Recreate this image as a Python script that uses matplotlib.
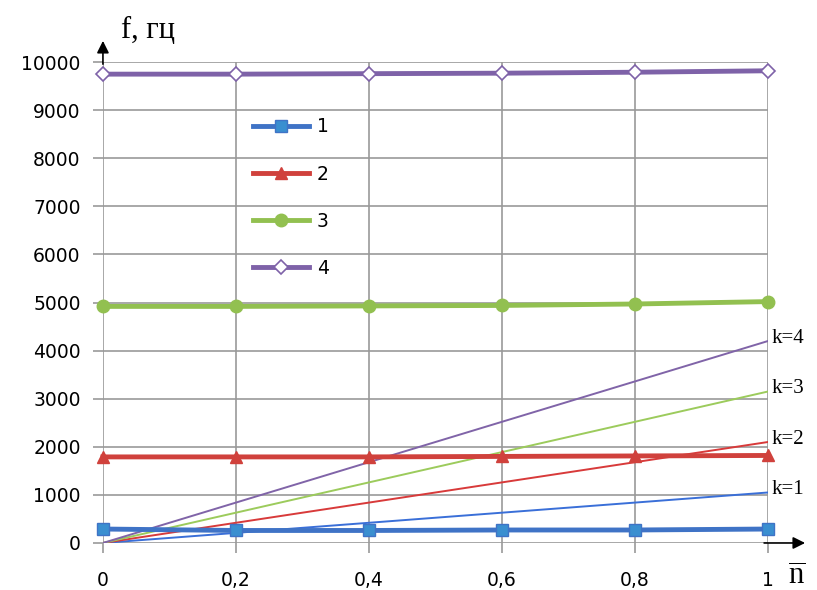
import matplotlib
matplotlib.use("Agg")
from matplotlib import pyplot as plt

# данные
n_vals = [0, 0.2, 0.4, 0.6, 0.8, 1.0]
f1 = [290, 260, 260, 270, 270, 290]
f2 = [1790, 1790, 1790, 1800, 1810, 1820]
f3 = [4920, 4920, 4930, 4940, 4970, 5020]
f4 = [9750, 9750, 9760, 9770, 9790, 9820]

k_n = [0, 1.0]
k_lines = {"k=1": [0, 1050], "k=2": [0, 2100], "k=3": [0, 3150], "k=4": [0, 4200]}

x_ticks = [0, 0.2, 0.4, 0.6, 0.8, 1.0]
x_labels = ["0", "0,2", "0,4", "0,6", "0,8", "1"]
y_ticks = list(range(0, 10001, 1000))

plt.rcParams["mathtext.fontset"] = "custom"
plt.rcParams["mathtext.rm"] = "Liberation Serif"

fig = plt.figure(figsize=(8.17, 5.9), dpi=100)
ax = fig.add_axes([0.126, 0.0797, 0.814, 0.815])

blue, red, green, purple = "#3F73C6", "#D0413C", "#92C050", "#7E62A8"
k_cols = {"k=1": "#3A6FD8", "k=2": "#D83A3A", "k=3": "#9CCB5C", "k=4": "#8064A8"}

# тонкие линии k
for name, vals in k_lines.items():
    ax.plot(k_n, vals, color=k_cols[name], lw=1.4, zorder=2)
    ax.text(1.006, vals[1] + 60, name, family="Liberation Serif", fontsize=15,
            ha="left", va="center")

ax.plot(n_vals, f1, color=blue, lw=3.5, marker="s", ms=9, mfc="#3A8FD0",
        mec=blue, label="1", clip_on=False, zorder=3)
ax.plot(n_vals, f2, color=red, lw=3.5, marker="^", ms=9, mfc=red,
        mec=red, label="2", clip_on=False, zorder=3)
ax.plot(n_vals, f3, color=green, lw=3.5, marker="o", ms=9, mfc=green,
        mec=green, label="3", clip_on=False, zorder=3)
ax.plot(n_vals, f4, color=purple, lw=3.5, marker="D", ms=7, mfc="white",
        mec=purple, mew=1.2, label="4", clip_on=False, zorder=3)

ax.set_xlim(0, 1)
ax.set_ylim(0, 10000)
ax.set_xticks(x_ticks)
ax.set_xticklabels(x_labels)
ax.set_yticks(y_ticks)
ax.grid(True, color="#999999", lw=1.2)
ax.set_axisbelow(True)
for s in ax.spines.values():
    s.set_visible(False)
ax.tick_params(axis="y", length=7, color="#999999", width=1.2, labelsize=13.5, pad=9)
ax.tick_params(axis="x", length=7, color="#999999", width=1.2, labelsize=13.5, pad=13)

# оси со стрелками
ax.annotate("", xy=(1.06, 0), xytext=(0.99, 0), xycoords="data",
            arrowprops=dict(arrowstyle="-|>", color="black", lw=1.2, mutation_scale=18),
            annotation_clip=False)
ax.annotate("", xy=(0, 10500), xytext=(0, 9900), xycoords="data",
            arrowprops=dict(arrowstyle="-|>", color="black", lw=1.2, mutation_scale=18),
            annotation_clip=False)

ax.text(0.027, 10650, "f, гц", family="Liberation Serif", fontsize=22,
        ha="left", va="center")
ax.text(1.043, -700, r"$\overline{\mathrm{n}}$", fontsize=22, ha="center", va="center")

leg = ax.legend(loc="upper left", bbox_to_anchor=(0.2, 0.92), frameon=False,
                handlelength=3.0, labelspacing=1.5, fontsize=13.5, handletextpad=0.4)

plt.savefig("out.png", dpi=100)
